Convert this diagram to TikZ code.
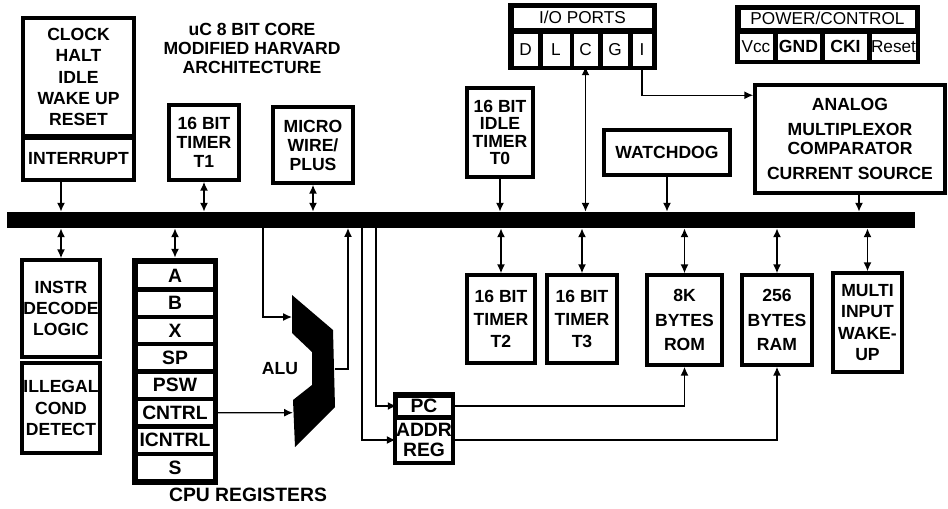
\documentclass[tikz,border=0pt]{standalone}
\usepackage{fontspec}
\setsansfont{Liberation Sans}
\usetikzlibrary{arrows.meta}
\tikzset{
  wh/.style 2 args={minimum width=#1*0.02cm, minimum height=#2*0.02cm},
  txt/.style={align=center, inner sep=0pt, font=\sffamily\bfseries\fontsize{10}{12}\selectfont},
  lead/.style={font=\sffamily\bfseries\fontsize{10}{#1}\selectfont},
  blk/.style={txt, draw, line width=2pt, fill=white},
  frame/.style={fill=black, inner sep=0pt},
  cell/.style={txt, draw, line width=0.5pt, fill=white},
  rcell/.style={cell, font=\sffamily\bfseries\fontsize{11}{11}\selectfont},
  pcell/.style={cell, font=\sffamily\fontsize{9.8}{10}\selectfont},
  wire/.style={line width=0.8pt},
  tip/.style={-{Latex[length=5pt,width=4.5pt]}},
  tips/.style={{Latex[length=5pt,width=4.5pt]}-{Latex[length=5pt,width=4.5pt]}},
}
\begin{document}
\begin{tikzpicture}[x=0.02cm, y=-0.02cm]
\useasboundingbox (0,0) rectangle (948,508);

% bus
\node[frame, wh={908}{16}] (bus) at (461,220) {};

% upper blocks
\node[blk, wh={111}{118}] (clk) at (78.5,77) {CLOCK\\HALT\\IDLE\\WAKE UP\\RESET};
\node[blk, wh={111}{42}] (intr) at (78.5,159) {INTERRUPT};
\node[txt, font=\sffamily\bfseries\fontsize{10}{10.8}\selectfont] (title) at (252,48) {uC 8 BIT CORE\\MODIFIED HARVARD\\ARCHITECTURE};
\node[blk, lead=10.8, wh={70}{75}] (t1) at (204,142.5) {16 BIT\\TIMER\\T1};
\node[blk, lead=10.8, wh={80}{76}] (mw) at (313,145) {MICRO\\WIRE/\\PLUS};
\node[blk, lead=10, wh={66}{89}] (t0) at (500,132.5) {16 BIT\\IDLE\\TIMER\\T0};
\node[blk, wh={126}{45}] (wd) at (667,152.5) {WATCHDOG};
\node[blk, lead=10.5, wh={190}{108}] (analog) at (850,139) {ANALOG\\[4pt]MULTIPLEXOR\\COMPARATOR\\[4pt]CURRENT SOURCE};

% I/O ports
\node[frame, wh={149}{67}] (io) at (582.5,36.5) {};
\node[pcell, wh={139}{21}] (iohead) at (582.5,17.5) {I/O PORTS};
\node[pcell, wh={25}{33}] (pD) at (525.5,49.5) {D};
\node[pcell, wh={28}{33}] (pL) at (556,49.5) {L};
\node[pcell, wh={25}{33}] (pC) at (585.5,49.5) {C};
\node[pcell, wh={26}{33}] (pG) at (615,49.5) {G};
\node[pcell, wh={20}{33}] (pI) at (642,49.5) {I};

% power/control
\node[frame, wh={185}{59}] (pwr) at (827.5,34.5) {};
\node[pcell, wh={175}{19}] (pwrhead) at (827.5,18.5) {POWER/CONTROL};
\node[pcell, wh={34}{27}] (vcc) at (756,46.5) {Vcc};
\node[cell, wh={43}{27}] (gnd) at (798.5,46.5) {GND};
\node[cell, wh={43}{27}] (cki) at (845.5,46.5) {CKI};
\node[pcell, wh={45}{27}] (rst) at (893.5,46.5) {Reset};

% lower blocks
\node[blk, wh={78}{97}] (instr) at (61,308.5) {INSTR\\DECODE\\LOGIC};
\node[blk, wh={78}{90}] (ill) at (61,408) {ILLEGAL\\COND\\DETECT};
\node[blk, lead=12.7, wh={68}{88}] (t2) at (501,319) {16 BIT\\TIMER\\T2};
\node[blk, lead=12.7, wh={70}{88}] (t3) at (582,319) {16 BIT\\TIMER\\T3};
\node[blk, lead=14, wh={75}{90}] (rom) at (684.5,320) {8K\\BYTES\\ROM};
\node[blk, lead=14, wh={70}{90}] (ram) at (777,320) {256\\BYTES\\RAM};
\node[blk, lead=12, wh={69}{99}] (multi) at (867.5,322.5) {MULTI\\INPUT\\WAKE-\\UP};

% CPU registers
\node[frame, wh={86}{227}] (regs) at (175,371.5) {};
\foreach \r [count=\i from 0] in {A,B,X,SP,PSW,CNTRL,ICNTRL,S}
  \node[rcell, wh={76}{24}] (r\r) at (175,275.7+27.4*\i) {\r};
\node[txt, font=\sffamily\bfseries\fontsize{11}{12}\selectfont] (cpulbl) at (248,495) {CPU REGISTERS};

% PC / ADDR REG
\node[frame, wh={62}{73}] (pcreg) at (424,428.5) {};
\node[rcell, wh={54}{18}] (pc) at (424,406) {PC};
\node[rcell, wh={54}{42}] (addr) at (424,440) {ADDR\\REG};

% ALU
\fill (292,295) -- (333,330) -- (335,407) -- (295,447) -- (293,400) -- (312,385)
  -- (312,352) -- (292,333) -- cycle;
\node[txt] (alulbl) at (280,369) {ALU};
\coordinate (aluA) at (292,317);
\coordinate (aluB) at (293,412.7);
\coordinate (aluY) at (335,369);
\coordinate (busA) at (263,228);
\coordinate (busY) at (348,228);
\coordinate (busAD) at (362,228);
\coordinate (busPC) at (376,228);

% connectors
\draw[wire,tip] (intr.south -| instr.north) -- (bus.north -| instr.north);
\draw[wire,tips] (bus.south -| instr.north) -- (instr.north);
\draw[wire,tips] (t1.south) -- (bus.north -| t1.south);
\draw[wire,tips] (mw.south) -- (bus.north -| mw.south);
\draw[wire,tips] (bus.south -| regs.north) -- (regs.north);
\draw[wire,tip] (busA) |- (aluA);
\draw[wire,tip] (rCNTRL.east) -- (aluB);
\draw[wire,tip] (aluY) -| (busY);
\draw[wire,tip] (busPC) |- (pc.west);
\draw[wire,tip] (busAD) |- (addr.west);
\draw[wire,tip] (pc.east) -| (rom.south);
\draw[wire,tip] (addr.east) -| (ram.south);
\draw[wire,tip] (t0.south) -- (bus.north -| t0.south);
\draw[wire,tips] (bus.south -| t2.north) -- (t2.north);
\draw[wire,tips] (bus.north -| pC.south) -- (pC.south);
\draw[wire,tips] (bus.south -| t3.north) -- (t3.north);
\draw[wire,tip] (pI.south) |- ([yshift=-0.24cm]analog.north west);
\draw[wire,tip] (wd.south) -- (bus.north -| wd.south);
\draw[wire,tips] (bus.south -| rom.north) -- (rom.north);
\draw[wire,tips] (bus.south -| ram.north) -- (ram.north);
\draw[wire,tip] ([xshift=0.18cm]analog.south) -- ([xshift=0.18cm]analog.south |- bus.north);
\draw[wire,tips] (bus.south -| multi.north) -- (multi.north);
\end{tikzpicture}
\end{document}
